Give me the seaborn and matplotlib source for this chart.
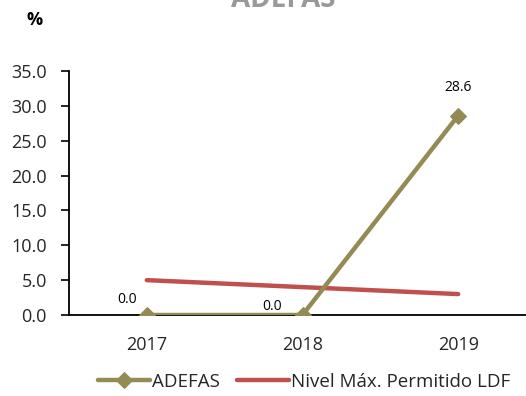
import matplotlib
matplotlib.use("Agg")
import matplotlib.pyplot as plt
import seaborn as sns
import pandas as pd

years = ["2017", "2018", "2019"]
adefas = [0.0, 0.0, 28.6]
nivel_max = [5.0, 4.0, 3.0]
y_ticks = [0, 5, 10, 15, 20, 25, 30, 35]

sns.set_theme(style="white")
plt.rcParams["font.family"] = ["Open Sans", "DejaVu Sans"]

olive = "#948A54"
red = "#C0504D"

df = pd.DataFrame({"year": years, "ADEFAS": adefas, "Nivel Máx. Permitido LDF": nivel_max})
df["x"] = range(len(years))

fig = plt.figure(figsize=(5.26, 3.96), dpi=100)
ax = fig.add_axes([69 / 526, 1 - 315 / 396, (536 - 69) / 526, (315 - 71) / 396])

sns.lineplot(data=df, x="x", y="ADEFAS", ax=ax, color=olive, linewidth=3.2,
             marker="D", markersize=8, markeredgecolor=olive, label="ADEFAS", zorder=3)
sns.lineplot(data=df, x="x", y="Nivel Máx. Permitido LDF", ax=ax, color=red,
             linewidth=3.2, label="Nivel Máx. Permitido LDF", zorder=2)

ax.set_xlim(-0.5, 2.5)
ax.set_ylim(0, 35)
ax.set_yticks(y_ticks)
ax.set_yticklabels([f"{v:.1f}" for v in y_ticks], fontsize=13)
ax.set_xticks(df["x"])
ax.set_xticklabels(years, fontsize=13)
ax.set_xlabel("")
ax.set_ylabel("")
ax.tick_params(axis="y", left=True, direction="out", length=6, width=1.2,
               color="black", pad=10)
ax.tick_params(axis="x", bottom=False, length=0, pad=15)

for s in ["top", "right"]:
    ax.spines[s].set_visible(False)
for s in ["left", "bottom"]:
    ax.spines[s].set_color("black")
    ax.spines[s].set_linewidth(1.3)

# value labels for the ADEFAS series
offsets = [(-14, 11), (-22, 6), (0, 20)]
for xi, v, off in zip(df["x"], adefas, offsets):
    ax.annotate(f"{v:.1f}", (xi, v), xytext=off, textcoords="offset points",
                ha="center", va="center", fontsize=10, color="black")

ax.legend(loc="center", bbox_to_anchor=(304 / 526, 1 - 382 / 396),
          bbox_transform=fig.transFigure, ncol=2, frameon=False, fontsize=13.5,
          handlelength=2.8, columnspacing=0.9, handletextpad=0.1, borderaxespad=0)

fig.text(283 / 526, 1 - 7 / 396, "ADEFAS", ha="center", va="baseline",
         fontsize=20, fontweight="bold", color="#999999")
fig.text(35 / 526, 1 - 20 / 396, "%", ha="center", va="center",
         fontsize=13, fontweight="bold", color="black")

fig.savefig("out.png", dpi=100)
